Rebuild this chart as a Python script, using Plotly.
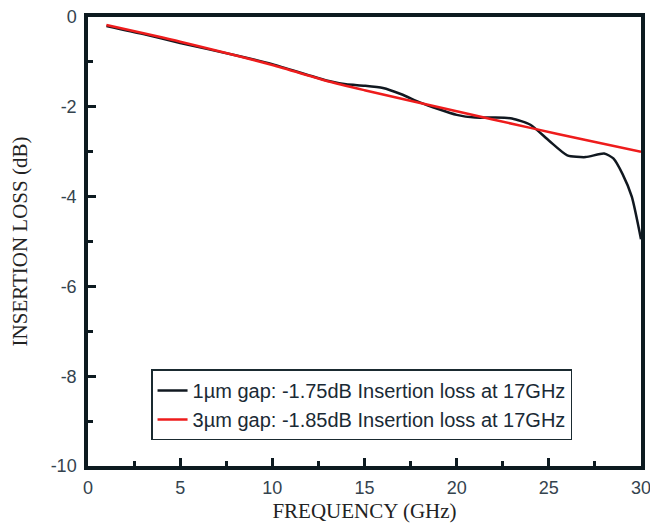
import plotly.graph_objects as go

freq_black = [1, 3, 5, 8, 10, 12, 13, 14, 15, 16, 17, 18, 19, 20, 21, 22, 23, 24, 25, 26, 27, 28, 28.5, 29, 29.5, 30]
loss_black = [-0.2, -0.38, -0.58, -0.85, -1.05, -1.3, -1.42, -1.5, -1.53, -1.58, -1.72, -1.9, -2.05, -2.18, -2.24, -2.24, -2.26, -2.4, -2.75, -3.08, -3.12, -3.04, -3.15, -3.5, -4.0, -4.95]

freq_red = [1, 5, 10, 13, 15, 20, 24, 27, 30]
loss_red = [-0.18, -0.55, -1.07, -1.43, -1.63, -2.1, -2.47, -2.74, -3.0]

x_ticks = [0, 5, 10, 15, 20, 25, 30]
y_ticks = [0, -2, -4, -6, -8, -10]
y_ticktext = ["0", "-2", "-4", "-6", "-8", "-10"]

name_black = "1µm gap: -1.75dB Insertion loss at 17GHz"
name_red = "3µm gap: -1.85dB Insertion loss at 17GHz"

fig = go.Figure()
fig.add_trace(go.Scatter(x=freq_black, y=loss_black, mode="lines", name=name_black,
                         line=dict(color="#111820", width=2.5, shape="spline", smoothing=0.6)))
fig.add_trace(go.Scatter(x=freq_red, y=loss_red, mode="lines", name=name_red,
                         line=dict(color="#ee1c1c", width=2.5, shape="spline", smoothing=0.6)))

axcol = "#0d1a20"
tickfont = dict(family="Liberation Sans, Arial", size=18, color="#34434e")
titlefont = dict(family="Liberation Serif, Times New Roman", size=21, color="#222")

fig.update_layout(
    width=650, height=517,
    margin=dict(l=80, r=17, t=9, b=59),
    paper_bgcolor="white", plot_bgcolor="white",
    showlegend=True,
    legend=dict(x=0.114, y=0.215, xanchor="left", yanchor="top",
                bordercolor="#1a2a30", borderwidth=1.5, bgcolor="rgba(255,255,255,0)",
                font=dict(family="Liberation Sans, Arial", size=20, color="#1a2a35"),
                tracegroupgap=0, itemwidth=30),
    xaxis=dict(range=[0, 30], tickvals=x_ticks, showgrid=False, zeroline=False, automargin=False,
               ticklabeloverflow="allow", ticklabelstandoff=3,
               showline=True, linecolor=axcol, linewidth=3.5, mirror=True,
               ticks="inside", ticklen=8, tickwidth=3, tickcolor=axcol,
               minor=dict(tickvals=[2.5, 7.5, 12.5, 17.5, 22.5, 27.5], ticks="inside", ticklen=5,
                          tickwidth=3, tickcolor=axcol, showgrid=False),
               tickfont=tickfont, title=dict(text="FREQUENCY (GHz)", font=titlefont, standoff=7)),
    yaxis=dict(range=[-10, 0], tickvals=y_ticks, ticktext=y_ticktext, showgrid=False, zeroline=False,
               automargin=False, ticklabeloverflow="allow", ticklabelstandoff=4,
               showline=True, linecolor=axcol, linewidth=3.5, mirror=True,
               ticks="inside", ticklen=8, tickwidth=3, tickcolor=axcol,
               minor=dict(tickvals=[-1, -3, -5, -7, -9], ticks="inside", ticklen=5,
                          tickwidth=3, tickcolor=axcol, showgrid=False),
               tickfont=tickfont, title=dict(text="INSERTION LOSS (dB)", font=titlefont, standoff=29)),
)

fig.write_html("out.html")
